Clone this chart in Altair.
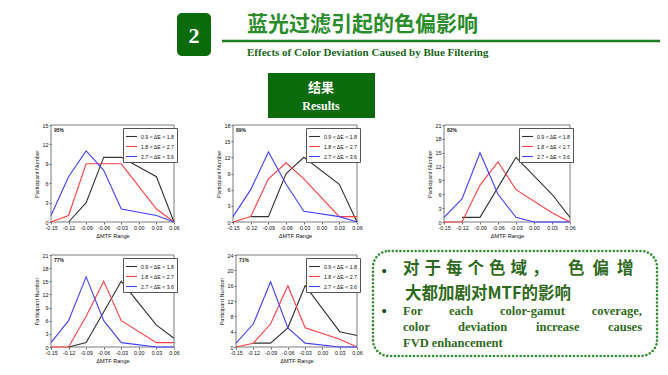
import altair as alt
import pandas as pd

# ---------------- data ----------------
X_VALUES = [-0.15, -0.12, -0.09, -0.06, -0.03, 0.00, 0.03, 0.06]
SERIES = ["0.9 < ΔE < 1.8", "1.8 < ΔE < 2.7", "2.7 < ΔE < 3.6"]
COLORS = ["#333333", "#ff4040", "#4040ff"]

PCT_LABELS = ["95%", "89%", "82%", "77%", "71%"]
Y_MAX = [15, 18, 21, 21, 24]
Y_STEP = [3, 3, 3, 3, 4]

# participant numbers at X_VALUES (None = no point)
P1_LOW = [None, 0, 3, 10, 10, None, 7, 0]
P1_MID = [0, 1, 9, 9, 9, None, 2, 0]
P1_HIGH = [1, 7, 11, 8, 2, None, 1, 0]

P2_LOW = [None, 1, 1, 9, 12, None, 7, 0]
P2_MID = [0, 1, 8, 11, 8, None, 1, 1]
P2_HIGH = [1, 6, 13, 7, 2, None, 1, 0]

P3_LOW = [None, 1, 1, None, 14, None, 6, 1]
P3_MID = [0, 0, 8, 13, 7, None, 2, 0]
P3_HIGH = [1, 5, 15, 6, 1, 0, 0, 0]

P4_LOW = [None, 0, 1, None, 15, None, 5, 2]
P4_MID = [0, 0, 7, 15, 6, None, 1, 1]
P4_HIGH = [1, 6, 16, 6, 1, None, 0, 0]

P5_LOW = [None, 1, 1, 5, 16, None, 4, 3]
P5_MID = [0, 1, 6, 16, 5, None, 2, 0]
P5_HIGH = [1, 6, 17, 5, 1, None, 0, 0]

PANELS = [
    [P1_LOW, P1_MID, P1_HIGH],
    [P2_LOW, P2_MID, P2_HIGH],
    [P3_LOW, P3_MID, P3_HIGH],
    [P4_LOW, P4_MID, P4_HIGH],
    [P5_LOW, P5_MID, P5_HIGH],
]

SECTION_NUMBER = "2"
TITLE_CN = "蓝光过滤引起的色偏影响"
TITLE_EN = "Effects of Color Deviation Caused by Blue Filtering"
RESULTS_CN = "结果"
RESULTS_EN = "Results"
X_TITLE = "ΔMTF Range"
Y_TITLE = "Participant Number"
NOTE_CN_1A = "对于每个色域，"
NOTE_CN_1B = "色偏增"
NOTE_CN_2 = "大都加剧对MTF的影响"
NOTE_EN_1 = ["For", "each", "color-gamut", "coverage,"]
NOTE_EN_2 = ["color", "deviation", "increase", "causes"]
NOTE_EN_3 = "FVD enhancement"

# ---------------- layout ----------------
W, H = 652, 359
AX_FONT = "Liberation Sans"
SERIF = "Liberation Serif"
CJK = "Noto Sans CJK SC"

# plot areas (left, right, top, bottom) in chart pixels
GEOM = [
    (43, 166, 117, 214),
    (225, 349, 117, 214),
    (436, 562, 117, 214),
    (43, 166, 247, 339),
    (228, 349, 247, 339),
]

ONE = pd.DataFrame({"k": [0]})


def long_df(series_vals):
    rows = []
    for name, vals in zip(SERIES, series_vals):
        for xv, yv in zip(X_VALUES, vals):
            if yv is not None:
                rows.append({"x": xv, "y": yv, "s": name})
    return pd.DataFrame(rows)


def panel(i):
    left, right, top, bottom = GEOM[i]
    ymax, ystep = Y_MAX[i], Y_STEP[i]
    xs = alt.Scale(domain=[-0.15, 0.06], range=[left, right], nice=False, zero=False)
    ys = alt.Scale(domain=[0, ymax], range=[bottom, top], nice=False, zero=False)
    xaxis = alt.Axis(
        orient="bottom", offset=bottom - H, values=X_VALUES,
        labelExpr="replace(format(datum.value, '.2f'), '\u2212', '-')",
        title=X_TITLE, domain=False, grid=False, ticks=True, tickSize=2,
        tickColor="#666", labelFont=AX_FONT, labelFontSize=5.4, labelColor="#111",
        labelPadding=1, labelFlush=False, labelOverlap=False,
        titleFont=AX_FONT, titleFontSize=5.6, titleFontWeight="normal",
        titleColor="#111", titlePadding=3,
    )
    yaxis = alt.Axis(
        orient="left", offset=-left, values=list(range(0, ymax + 1, ystep)),
        format="d", title=Y_TITLE, domain=False, grid=False, ticks=True,
        tickSize=2, tickColor="#666", labelFont=AX_FONT, labelFontSize=5.4,
        labelColor="#111", labelPadding=1, labelOverlap=False,
        titleFont=AX_FONT, titleFontSize=5.6, titleFontWeight="normal",
        titleColor="#111", titlePadding=3,
    )
    lines = alt.Chart(long_df(PANELS[i])).mark_line(strokeWidth=1.1).encode(
        x=alt.X("x:Q", scale=xs, axis=xaxis),
        y=alt.Y("y:Q", scale=ys, axis=yaxis),
        color=alt.Color(
            "s:N",
            scale=alt.Scale(domain=SERIES, range=COLORS),
            legend=alt.Legend(
                orient="none", legendX=right - 51, legendY=top + 3,
                title=None, symbolType="stroke", symbolSize=120,
                symbolStrokeWidth=1.1, labelFont=AX_FONT, labelFontSize=5.2,
                labelColor="#111", labelOffset=3, padding=2, rowPadding=0,
                strokeColor="#555", fillColor="white", cornerRadius=0,
            ),
        ),
    )
    frame = alt.Chart(ONE).mark_rect(fillOpacity=0, stroke="#7a7a7a", strokeWidth=1).encode(
        x=alt.XDatum(-0.15, type="quantitative", scale=xs, axis=xaxis),
        x2=alt.X2Datum(0.06),
        y=alt.YDatum(0, type="quantitative", scale=ys, axis=yaxis),
        y2=alt.Y2Datum(ymax),
    )
    pct = alt.Chart(pd.DataFrame({"t": [PCT_LABELS[i]]})).mark_text(
        align="left", baseline="middle", dx=3, dy=5, font=AX_FONT,
        fontSize=5, fontWeight="bold", color="#222",
    ).encode(
        x=alt.XDatum(-0.15, type="quantitative", scale=xs, axis=xaxis),
        y=alt.YDatum(ymax, type="quantitative", scale=ys, axis=yaxis),
        text="t:N",
    )
    return alt.layer(frame, lines, pct)


def txt(s, x, y, **kw):
    base = dict(baseline="middle")
    base.update(kw)
    return alt.Chart(pd.DataFrame({"t": [s]})).mark_text(**base).encode(
        x=alt.value(x), y=alt.value(y), text="t:N"
    )


def box(x1, x2, y1, y2, **kw):
    return alt.Chart(ONE).mark_rect(**kw).encode(
        x=alt.value(x1), x2=alt.value(x2), y=alt.value(y1), y2=alt.value(y2)
    )


GREEN_DARK = "#0b6b0b"
GREEN_TITLE = "#2a8c2a"
GREEN_TEXT = "#2f6a1c"

decor = [
    # section number box
    box(169, 203, 5, 48, fill=GREEN_DARK, cornerRadius=5),
    txt(SECTION_NUMBER, 186, 28, align="center", font=SERIF, fontSize=22,
        fontWeight="bold", color="white"),
    # title, rule, subtitle
    txt(TITLE_CN, 239, 16.5, align="left", font=CJK, fontSize=21,
        fontWeight="bold", color=GREEN_TITLE),
    alt.Chart(ONE).mark_rule(color="#1e7b1e", strokeWidth=2.5).encode(
        x=alt.value(214), x2=alt.value(652), y=alt.value(33)),
    txt(TITLE_EN, 239, 45, align="left", font=SERIF, fontSize=11,
        fontWeight="bold", color="#17661a"),
    # results box
    box(260, 367, 65, 110, fill=GREEN_DARK),
    txt(RESULTS_CN, 313, 80, align="center", font=CJK, fontSize=13,
        fontWeight="bold", color="white"),
    txt(RESULTS_EN, 313, 98, align="center", font=SERIF, fontSize=12,
        fontWeight="bold", color="white"),
    # note box
    box(365, 649, 243, 348, fillOpacity=0, stroke="#2f8f2f", strokeWidth=2.6,
        strokeDash=[0.01, 3.8], strokeCap="round", cornerRadius=16),
    txt("•", 376, 263, align="center", font=AX_FONT, fontSize=15, color="#1f4f1f"),
    txt("•", 376, 303, align="center", font=AX_FONT, fontSize=15, color="#1f4f1f"),
    txt(NOTE_CN_2, 397, 286, align="left", font=CJK, fontSize=16.5,
        fontWeight="bold", color=GREEN_TEXT),
]

# first Chinese line is justified across the box: place its characters one by one
for k, ch in enumerate(NOTE_CN_1A):
    decor.append(txt(ch, 395 + k * 21.5, 261, align="left", font=CJK, fontSize=16.5,
                     fontWeight="bold", color=GREEN_TEXT))
for k, ch in enumerate(NOTE_CN_1B):
    decor.append(txt(ch, 560 + k * 24.5, 261, align="left", font=CJK, fontSize=16.5,
                     fontWeight="bold", color=GREEN_TEXT))

for word, xpos, al in zip(NOTE_EN_1, [395, 441, 492, 634], ["left", "left", "left", "right"]):
    decor.append(txt(word, xpos, 303, align=al, font=SERIF, fontSize=12.5,
                     fontWeight="bold", color=GREEN_TEXT))
for word, xpos, al in zip(NOTE_EN_2, [395, 450, 528, 634], ["left", "left", "left", "right"]):
    decor.append(txt(word, xpos, 319, align=al, font=SERIF, fontSize=12.5,
                     fontWeight="bold", color=GREEN_TEXT))
decor.append(txt(NOTE_EN_3, 395, 335, align="left", font=SERIF, fontSize=12.5,
                 fontWeight="bold", color=GREEN_TEXT))

panels = [panel(i) for i in range(5)]

chart = alt.layer(*decor, *panels).resolve_scale(
    x="independent", y="independent", color="independent"
).resolve_axis(
    x="independent", y="independent"
).resolve_legend(
    color="independent"
).properties(
    width=W, height=H, padding=0,
    autosize=alt.AutoSizeParams(type="none"),
    background="white",
).configure_view(stroke="transparent")

chart.save("out.html", embed_options={"renderer": "svg", "actions": False})
